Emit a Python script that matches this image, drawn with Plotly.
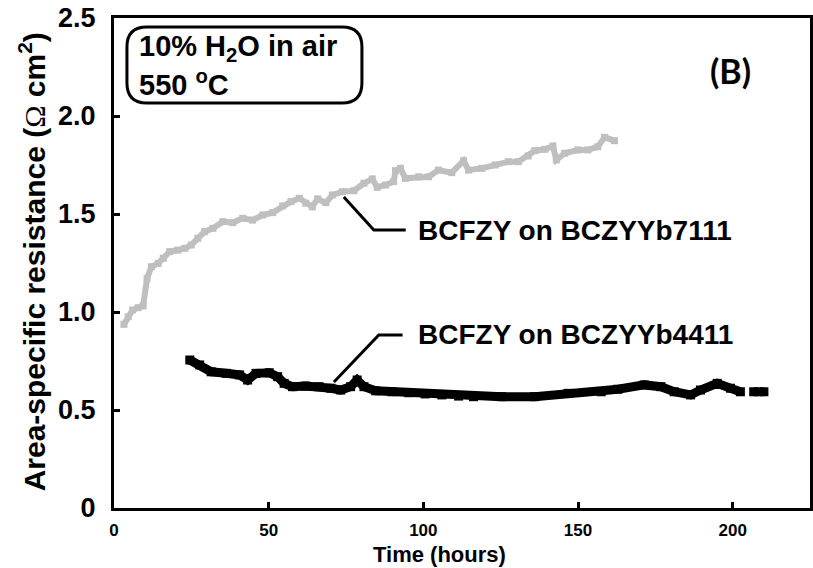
import plotly.graph_objects as go

# Area-specific resistance vs. time, 10% H2O in air at 550 C
time_7111 = [3.2, 4.6, 6.0, 7.8, 9.4, 10.7, 12.1, 14.3, 15.9, 18.0, 20.7, 22.9, 25.0, 27.1, 29.3,
             32.0, 35.2, 38.4, 41.6, 44.8, 48.1, 51.3, 54.5, 57.2, 59.9, 62.0, 64.1, 65.8, 68.5,
             70.6, 73.8, 77.6, 80.8, 83.5, 85.1, 87.8, 90.4, 91.0, 92.6, 94.2, 98.5, 101.7, 104.9,
             109.2, 113.0, 114.6, 118.9, 123.2, 127.5, 130.7, 133.9, 136.0, 139.3, 141.9, 143.0,
             145.7, 150.0, 153.2, 156.4, 158.6, 161.8]
asr_7111 = [0.937, 0.976, 1.01, 1.022, 1.031, 1.172, 1.231, 1.248, 1.274, 1.308, 1.316, 1.325, 1.342,
            1.376, 1.41, 1.427, 1.461, 1.456, 1.478, 1.469, 1.495, 1.507, 1.541, 1.563, 1.58, 1.555,
            1.537, 1.577, 1.558, 1.597, 1.614, 1.619, 1.657, 1.679, 1.636, 1.648, 1.665, 1.721, 1.733,
            1.682, 1.69, 1.69, 1.724, 1.711, 1.772, 1.724, 1.733, 1.75, 1.767, 1.767, 1.796, 1.823,
            1.83, 1.847, 1.776, 1.81, 1.827, 1.827, 1.843, 1.891, 1.874]

time_4411 = [24.5, 27.7, 31.4, 36.3, 40.6, 43.2, 45.9, 50.2, 52.9, 55.0, 57.7, 62.0, 66.3, 70.1,
             73.3, 76.5, 78.6, 80.8, 84.6, 89.9, 95.3, 100.6, 106.0, 111.4, 116.2, 125.3, 136.0,
             146.8, 157.5, 162.9, 171.4, 176.8, 181.1, 186.4, 189.6, 195.0, 199.3, 202.5, None,
             206.8, 210.1]
asr_4411 = [0.755, 0.730, 0.695, 0.687, 0.679, 0.653, 0.687, 0.690, 0.670, 0.636, 0.619, 0.622,
            0.619, 0.611, 0.602, 0.619, 0.653, 0.619, 0.598, 0.593, 0.588, 0.582, 0.577, 0.571,
            0.568, 0.568, 0.568, 0.585, 0.593, 0.606, 0.628, 0.619, 0.593, 0.577, 0.602, 0.636,
            0.611, 0.593, None, 0.593, 0.593]

y_tickvals = [0, 0.5, 1.0, 1.5, 2.0, 2.5]
y_ticktext = ["0", "0.5", "1.0", "1.5", "2.0", "2.5"]
x_tickvals = [0, 50, 100, 150, 200]
x_ticktext = ["0", "50", "100", "150", "200"]

label_7111 = "BCFZY on BCZYYb7111"
label_4411 = "BCFZY on BCZYYb4411"

W, H = 813, 568
ML, MR, MT, MB = 114, 0, 18, 60
PW, PH = W - ML - MR, H - MT - MB
FONT = "Liberation Sans, Arial, sans-serif"


def px(xpix):
    return (xpix - ML) / PW


def py(ypix):
    return (H - MB - ypix) / PH


fig = go.Figure()
fig.add_trace(go.Scatter(
    x=time_7111, y=asr_7111, mode="lines+markers",
    line=dict(color="#bfbfbf", width=6),
    marker=dict(symbol="square", size=7, color="#bfbfbf"),
    showlegend=False))
fig.add_trace(go.Scatter(
    x=time_4411, y=asr_4411, mode="lines+markers",
    line=dict(color="#000000", width=9),
    marker=dict(symbol="square", size=9, color="#000000"),
    showlegend=False, connectgaps=False))

# callout leaders (data coordinates)
fig.add_shape(type="path", xref="x", yref="y",
              path="M 74.3 1.587 L 84.0 1.418 L 94.3 1.418",
              line=dict(color="black", width=3))
fig.add_shape(type="path", xref="x", yref="y",
              path="M 71.1 0.643 L 85.6 0.883 L 93.3 0.883",
              line=dict(color="black", width=3))

# rounded box around the conditions text
x0, x1, y0, y1, r = 127, 363, 27, 103, 20
rx, ry = r / PW, r / PH
X0, X1, Y0, Y1 = px(x0), px(x1), py(y1), py(y0)
box = (f"M {X0 + rx} {Y1} L {X1 - rx} {Y1} Q {X1} {Y1} {X1} {Y1 - ry} "
       f"L {X1} {Y0 + ry} Q {X1} {Y0} {X1 - rx} {Y0} L {X0 + rx} {Y0} "
       f"Q {X0} {Y0} {X0} {Y0 + ry} L {X0} {Y1 - ry} Q {X0} {Y1} {X0 + rx} {Y1} Z")
fig.add_shape(type="path", xref="paper", yref="paper", path=box,
              line=dict(color="black", width=3), fillcolor="rgba(0,0,0,0)")

ann = []
ann.append(dict(x=px(137), y=py(48), xref="paper", yref="paper", xanchor="left", yanchor="middle",
                text="<b>10% H<sub>2</sub>O in air</b>", showarrow=False,
                font=dict(family=FONT, size=29, color="black")))
ann.append(dict(x=px(137), y=py(83), xref="paper", yref="paper", xanchor="left", yanchor="middle",
                text="<b>550 <sup>o</sup>C</b>", showarrow=False,
                font=dict(family=FONT, size=29, color="black")))
ann.append(dict(x=px(733), y=py(70), xref="paper", yref="paper", xanchor="center", yanchor="middle",
                text="<b>(B)</b>", showarrow=False,
                font=dict(family="Lato, Carlito, sans-serif", size=34, color="black")))
ann.append(dict(x=97.5, y=1.418, xref="x", yref="y", xanchor="left", yanchor="middle",
                text=f"<b>{label_7111}</b>", showarrow=False,
                font=dict(family=FONT, size=28, color="black")))
ann.append(dict(x=97.5, y=0.883, xref="x", yref="y", xanchor="left", yanchor="middle",
                text=f"<b>{label_4411}</b>", showarrow=False,
                font=dict(family=FONT, size=28, color="black")))
ann.append(dict(x=px(441), y=py(554), xref="paper", yref="paper", xanchor="center", yanchor="middle",
                text="<b>Time (hours)</b>", showarrow=False,
                font=dict(family=FONT, size=22, color="black")))
ann.append(dict(x=px(32), y=py(262), xref="paper", yref="paper", xanchor="center", yanchor="middle",
                textangle=-90, showarrow=False,
                text=("<b>Area-specific resistance (</b>"
                      "<span style=\"font-family:'Liberation Serif';font-weight:normal\">Ω</span>"
                      "<b> cm<sup>2</sup>)</b>"),
                font=dict(family=FONT, size=30, color="black")))

fig.update_layout(
    width=W, height=H,
    margin=dict(l=ML, r=MR, t=MT, b=MB, pad=0),
    paper_bgcolor="white", plot_bgcolor="white",
    annotations=ann,
    xaxis=dict(range=[0, 225], tickvals=x_tickvals, ticktext=x_ticktext,
               showgrid=False, zeroline=False, showline=True, linecolor="black", linewidth=3,
               mirror=True, ticks="inside", ticklen=6, tickwidth=3, tickcolor="black",
               tickfont=dict(family=FONT, size=17, color="black", weight="bold"),
               ticklabelstandoff=5),
    yaxis=dict(range=[0, 2.5], tickvals=y_tickvals, ticktext=y_ticktext,
               showgrid=False, zeroline=False, showline=True, linecolor="black", linewidth=3,
               mirror=True, ticks="inside", ticklen=6, tickwidth=3, tickcolor="black",
               tickfont=dict(family=FONT, size=27, color="black", weight="bold"),
               ticklabelstandoff=10),
)

fig.write_html("out.html")
